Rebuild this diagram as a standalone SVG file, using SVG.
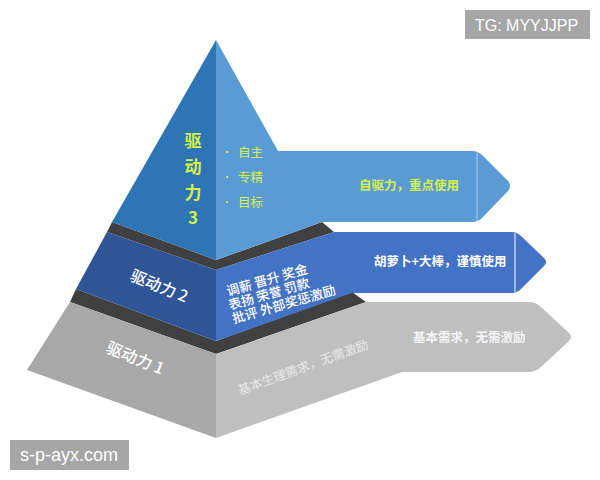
<svg xmlns="http://www.w3.org/2000/svg" width="600" height="480" viewBox="0 0 600 480">
<style>
.cjk{font-family:"Noto Sans CJK SC","Noto Sans",sans-serif}
.yel{fill:#d4f24a}
.wh{fill:#ffffff}
.lat{font-family:"Liberation Sans",Arial,sans-serif;fill:#ffffff}
.shelf{fill:#404040}
</style>
<rect width="600" height="480" fill="#ffffff"/>
<g id="shelves">
<polygon class="shelf" points="107,232 112,222 216,260 322,222 334,232 216,270"/>
<polygon class="shelf" points="76,289 216,341 352,292 366,302 216,354 70,302"/>
</g>
<g id="level1">
<polygon points="70,302 216,354 216,438 27,370" fill="#a8a8a8"/>
<path d="M216,354 L366,302 L528,302 Q536,302 541,307 L569,333 Q573,337 569,341 L541,367 Q536,372 528,372 L402,372 L216,438 Z" fill="#bfbfbf"/>
<text class="cjk wh" font-size="16" font-weight="500" transform="translate(105,352) rotate(22)">驱动力 1</text>
<text class="cjk" fill="#e8e8e8" font-size="12.5" transform="translate(240,395) rotate(-20)">基本生理需求，无需激励</text>
<text class="cjk" fill="#f4f4f4" font-size="12.5" font-weight="bold" x="413" y="342">基本需求，无需激励</text>
</g>
<g id="level2">
<polygon points="107,232 216,270 216,341 76,289" fill="#2f5597"/>
<path d="M216,270 L334,232 L512,232 Q517,232 521,236 L544,258 Q548,262 544,266 L521,289 Q517,293 512,293 L352,293 L216,341 Z" fill="#4472c4"/>
<line x1="515" y1="233" x2="515" y2="292" stroke="#dfe7f5" stroke-width="1.2"/>
<text class="cjk wh" font-size="16" font-weight="500" transform="translate(129,280) rotate(22)">驱动力 2</text>
<g transform="translate(228,296) rotate(-16)" class="cjk wh" font-size="13" font-weight="500" style="white-space:pre">
<text x="0" y="0">调薪  晋升  奖金</text>
<text x="-2" y="14">表扬  荣誉  罚款</text>
<text x="-2" y="28">批评  外部奖惩激励</text>
</g>
<text class="cjk wh" font-size="12.5" font-weight="bold" x="374" y="266">胡萝卜+大棒，谨慎使用</text>
</g>
<g id="level3">
<polygon points="216,40 112,222 216,260" fill="#2e75b6"/>
<path d="M216,40 L278,151 L472,151 Q478,151 482,155 L508,181 Q512,186 508,191 L482,218 Q478,222 472,222 L322,222 L216,260 Z" fill="#5b9bd5"/>
<line x1="477" y1="152" x2="477" y2="221" stroke="#a9c8ea" stroke-width="1.2"/>
<g class="cjk yel" font-size="17" font-weight="bold" text-anchor="middle">
<text x="193" y="147">驱</text>
<text x="193" y="173">动</text>
<text x="193" y="199">力</text>
<text x="193" y="224">3</text>
</g>
<g class="cjk yel" font-size="12.5">
<text x="222" y="156" font-size="10">•</text>
<text x="238" y="157">自主</text>
<text x="222" y="181" font-size="10">•</text>
<text x="238" y="182">专精</text>
<text x="222" y="206" font-size="10">•</text>
<text x="238" y="207">目标</text>
</g>
<text class="cjk yel" font-size="12.5" font-weight="bold" x="359" y="190">自驱力，重点使用</text>
</g>
<g id="watermark-tg">
<rect x="465" y="10" width="125" height="29" fill="#a6a6a6"/>
<text class="lat" font-size="16" x="475" y="31">TG: MYYJJPP</text>
</g>
<g id="watermark-site">
<rect x="10" y="440" width="119" height="30" fill="#a6a6a6"/>
<text class="lat" font-size="18" x="20" y="461">s-p-ayx.com</text>
</g>
</svg>
